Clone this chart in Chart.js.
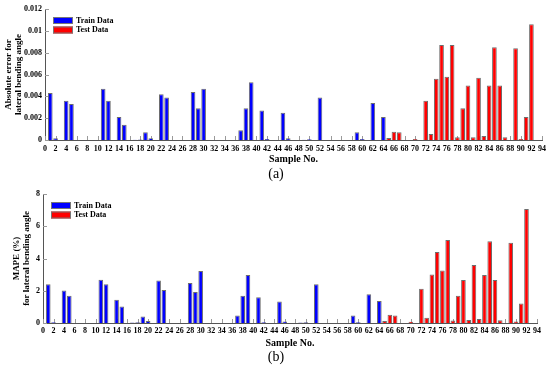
<!DOCTYPE html>
<html>
<head>
<meta charset="utf-8">
<script src="https://cdn.jsdelivr.net/npm/chart.js@4.4.0/dist/chart.umd.min.js"></script>
<style>
  body { margin: 0; background: #fff; }
  #wrap { position: relative; width: 550px; height: 368px; font-family: "Liberation Serif", serif; }
  .box { position: absolute; left: 0; width: 550px; }
  .cap { position: absolute; left: 0; width: 552px; text-align: center; font-size: 14px; line-height: 16px; }
</style>
</head>
<body>
<div id="wrap">
  <div class="box" style="top:0;height:167px"><canvas id="chartA"></canvas></div>
  <div class="cap" style="top:166px">(a)</div>
  <div class="box" style="top:180px;height:171px"><canvas id="chartB"></canvas></div>
  <div class="cap" style="top:349px">(b)</div>
</div>
<script>
// x axis runs 0..94
const sampleNos = Array.from({ length: 95 }, (_, i) => i);

const trainSamples = [1, 2, 4, 5, 11, 12, 14, 15, 17, 18, 19, 20, 22, 23, 28, 29, 30,
  37, 38, 39, 41, 42, 45, 46, 49, 50, 52, 59, 60, 62, 64];
const testSamples = [65, 66, 67, 70, 72, 73, 74, 75, 76, 77, 78, 79, 80, 81, 82, 83,
  84, 85, 86, 87, 89, 90, 91, 92];

// (a) absolute error
const trainAbsErr = [0.0043, 0.00015, 0.0036, 0.0033, 0.0047, 0.0036, 0.0021, 0.0014, 0.00003,
  0.00005, 0.0007, 0.00017, 0.0042, 0.0039, 0.0044, 0.0029, 0.0047, 0.0009, 0.0029, 0.0053,
  0.0027, 0.0001, 0.0025, 0.00015, 0.00003, 0.00008, 0.0039, 0.0007, 0.0001, 0.0034, 0.0021];
const testAbsErr = [0.00018, 0.00076, 0.0007, 0.0001, 0.0036, 0.00055, 0.0056, 0.0087, 0.0058,
  0.0087, 0.00025, 0.0029, 0.005, 0.00025, 0.0057, 0.00037, 0.005, 0.0085, 0.005, 0.00025,
  0.0084, 0.0001, 0.0021, 0.0106];

// (b) MAPE %
const trainMape = [2.4, 0.05, 2.02, 1.69, 2.68, 2.4, 1.44, 1.03, 0.03, 0.04, 0.41, 0.13, 2.64,
  2.04, 2.48, 1.92, 3.22, 0.47, 1.69, 2.97, 1.59, 0.05, 1.34, 0.1, 0.03, 0.04, 2.41, 0.47,
  0.05, 1.79, 1.36];
const testMape = [0.12, 0.51, 0.47, 0.08, 2.12, 0.33, 3.01, 4.41, 3.25, 5.15, 0.15, 1.69, 2.66,
  0.19, 3.59, 0.25, 2.97, 5.07, 2.66, 0.17, 4.97, 0.1, 1.21, 7.07];

Chart.defaults.font.family = '"Liberation Serif", serif';
Chart.defaults.color = '#000';

function fillSeries(samples, vals) {
  const out = sampleNos.map(() => null);
  samples.forEach((s, i) => { out[s] = vals[i]; });
  return out;
}

// matlab-like ticks pointing into the plot
const innerTicks = {
  id: 'innerTicks',
  beforeDatasetsDraw(chart) {
    const { ctx, chartArea, scales: { x, y } } = chart;
    ctx.save();
    ctx.strokeStyle = '#9a9a9a';
    ctx.lineWidth = 1;
    ctx.beginPath();
    for (let i = 0; i < sampleNos.length; i += 2) {
      const px = Math.round(x.getPixelForValue(i)) + 0.5;
      ctx.moveTo(px, chartArea.bottom);
      ctx.lineTo(px, chartArea.bottom - 4);
    }
    y.ticks.forEach(t => {
      const py = Math.round(y.getPixelForValue(t.value)) + 0.5;
      ctx.moveTo(chartArea.left, py);
      ctx.lineTo(chartArea.left + 4, py);
    });
    ctx.stroke();
    ctx.restore();
  }
};

// legend inside the plot, top left
const boxLegend = {
  id: 'boxLegend',
  afterDatasetsDraw(chart) {
    const { ctx, chartArea } = chart;
    ctx.save();
    ctx.font = 'bold 8px "Liberation Serif"';
    ctx.textBaseline = 'middle';
    chart.data.datasets.forEach((ds, i) => {
      const bx = chartArea.left + 8;
      const by = chartArea.top + 8 + i * 9.5;
      ctx.fillStyle = ds.backgroundColor;
      ctx.fillRect(bx, by, 20, 7);
      ctx.strokeStyle = '#777';
      ctx.strokeRect(bx + 0.5, by + 0.5, 19, 6);
      ctx.fillStyle = '#000';
      ctx.fillText(ds.label, bx + 23, by + 3.5);
    });
    ctx.restore();
  }
};

function buildChart(id, trainVals, testVals, cfg) {
  return new Chart(document.getElementById(id), {
    type: 'bar',
    data: {
      labels: sampleNos.map(String),
      datasets: [
        { label: 'Train Data', data: fillSeries(trainSamples, trainVals), backgroundColor: '#0000ff' },
        { label: 'Test Data', data: fillSeries(testSamples, testVals), backgroundColor: '#ff0000' }
      ]
    },
    options: {
      responsive: true,
      maintainAspectRatio: false,
      animation: false,
      layout: { padding: cfg.padding },
      plugins: { legend: { display: false }, tooltip: { enabled: false } },
      datasets: {
        bar: { grouped: false, categoryPercentage: 1, barPercentage: 0.88, borderWidth: 1, borderColor: '#6e6e6e' }
      },
      scales: {
        x: {
          offset: false,
          grid: { display: false, drawTicks: false },
          border: { display: true, color: '#555' },
          ticks: {
            autoSkip: false, maxRotation: 0, minRotation: 0, padding: cfg.xTickPad,
            font: { size: 8, weight: 'bold' },
            callback: (v, i) => (i % 2 === 0 ? sampleNos[i] : '')
          },
          title: { display: true, text: 'Sample No.', font: { size: 10, weight: 'bold' }, padding: { top: 0, bottom: 2 } },
          afterFit: s => { s.height = cfg.xHeight; }
        },
        y: {
          min: 0, max: cfg.yMax,
          grid: { display: false, drawTicks: false },
          border: { display: true, color: '#555' },
          ticks: {
            stepSize: cfg.yStep, padding: 3,
            font: { size: 8, weight: 'bold' },
            callback: v => +v.toFixed(3)
          },
          title: {
            display: true, text: cfg.yTitle,
            font: { size: 9, weight: 'bold', lineHeight: 1.1 },
            padding: { top: cfg.yTitlePad, bottom: 0 }
          },
          afterFit: s => { s.width = cfg.yWidth; }
        }
      }
    },
    plugins: [innerTicks, boxLegend]
  });
}

buildChart('chartA', trainAbsErr, testAbsErr, {
  padding: { left: 0, right: 7, top: 9, bottom: 0 },
  yMax: 0.012, yStep: 0.002, yWidth: 45, xHeight: 27, xTickPad: 4,
  yTitle: ['Absolute error for', 'lateral bending angle'], yTitlePad: 4
});

buildChart('chartB', trainMape, testMape, {
  padding: { left: 0, right: 13, top: 14, bottom: 0 },
  yMax: 8, yStep: 2, yWidth: 43, xHeight: 28, xTickPad: 3,
  yTitle: ['MAPE (%)', 'for lateral bending angle'], yTitlePad: 12
});
</script>
</body>
</html>
